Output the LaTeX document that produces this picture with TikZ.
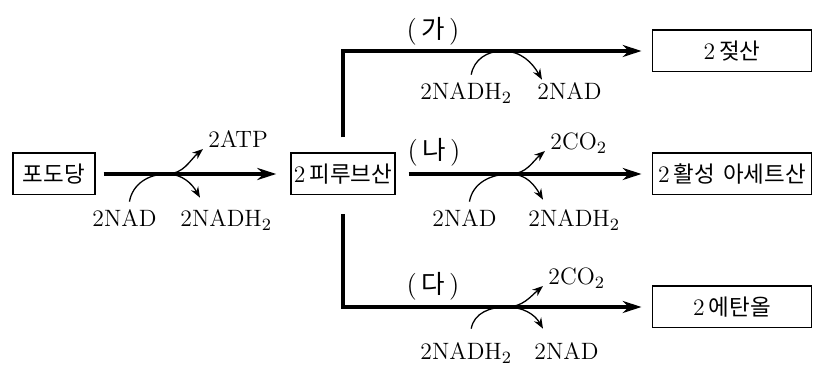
\documentclass[tikz,border=0pt]{standalone}
\usepackage{fontspec}
\newfontfamily\kr{Noto Sans CJK KR}[Scale=0.95]
\usetikzlibrary{arrows.meta,positioning,calc}

\begin{document}
\begin{tikzpicture}[x=0.465pt,y=0.465pt,>={Stealth[length=8.8pt,width=5.6pt]},
  every node/.style={inner sep=0pt,font=\fontsize{11}{13}\selectfont},
  stage/.style={draw,line width=0.7pt,minimum height=19.3pt,inner xsep=1pt},
  chem/.style={anchor=base west},
  step label/.style={font=\fontsize{12.5}{14}\selectfont},
  flow/.style={line width=2.2pt,->},
  carrier/.style={line width=0.6pt},
  release/.style={line width=0.6pt,-{Stealth[length=5pt,width=3.8pt]}}]
\useasboundingbox (0,0) rectangle (822,372);
% compounds
\node[stage,minimum width=38pt] (glc) at (54,198) {\kr 포도당};
\node[stage,minimum width=48.4pt] (pyr) at (343,198) {2\,{\kr 피루브산}};
\node[stage,minimum width=74pt] (lac) at (732,321) {2\,{\kr 젖산}};
\node[stage,minimum width=74pt] (ace) at (732,198) {2\,{\kr 활성}\hspace{0.35em}{\kr 아세트산}};
\node[stage,minimum width=74pt] (eth) at (732,65) {2\,{\kr 에탄올}};
% main pathways
\draw[flow,shorten <=3.7pt,shorten >=6.5pt] (glc) -- (pyr);
\draw[flow,shorten <=6pt,shorten >=4.7pt] (pyr) -- (ace);
\draw[flow,shorten >=4.7pt] ([yshift=7pt]pyr.north) |- (lac);
\draw[flow,shorten >=4.7pt] ([yshift=-8.8pt]pyr.south) |- (eth);
\node[step label] (ga) at (433,341) {(\,{\kr 가}\,)};
\node[step label] (na) at (434,220) {(\,{\kr 나}\,)};
\node[step label] (da) at (433,86) {(\,{\kr 다}\,)};
% side products
\node[chem] (nad1) at (92,145) {2NAD};
\node[chem] (nadh1) at (180,145) {2NADH$_2$};
\node[chem] (atp) at (208,224) {2ATP};
\node[chem] (nad2) at (432,145) {2NAD};
\node[chem] (nadh2) at (528,145) {2NADH$_2$};
\node[chem] (co2b) at (550,222) {2CO$_2$};
\node[chem] (nadh3) at (420,272) {2NADH$_2$};
\node[chem] (nad3) at (537,272) {2NAD};
\node[chem] (nadh4) at (420,12) {2NADH$_2$};
\node[chem] (nad4) at (534,12) {2NAD};
\node[chem] (co2c) at (548,87) {2CO$_2$};
\coordinate (m1) at ($(glc)!0.39!(pyr)$);
\coordinate (m2) at ($(pyr)!0.43!(ace)$);
\coordinate (m3) at ($(pyr |- lac)!0.41!(lac)$);
\coordinate (m4) at ($(pyr |- eth)!0.42!(eth)$);
\draw[carrier] ([shift={(5,8)}]nad1.north) to[out=80,in=180] (m1);
\draw[release] (m1) to[out=0,in=220] ([shift={(-5,-1)}]atp.base west);
\draw[release] (m1) to[out=0,in=120] ([shift={(20,12)}]nadh1.north west);
\draw[carrier] ([shift={(5,8)}]nad2.north) to[out=80,in=180] (m2);
\draw[release] (m2) to[out=0,in=220] ([shift={(-5,-1)}]co2b.base west);
\draw[release] (m2) to[out=0,in=120] ([shift={(15,10)}]nadh2.north west);
\draw[carrier] ([shift={(5,8)}]nadh3.north) to[out=80,in=180] (m3);
\draw[release] (m3) to[out=0,in=120] ([shift={(5,3)}]nad3.north west);
\draw[carrier] ([shift={(5,14)}]nadh4.north) to[out=80,in=180] (m4);
\draw[release] (m4) to[out=0,in=220] ([shift={(-5,-1)}]co2c.base west);
\draw[release] (m4) to[out=0,in=120] ([shift={(9,14)}]nad4.north west);
\end{tikzpicture}
\end{document}
